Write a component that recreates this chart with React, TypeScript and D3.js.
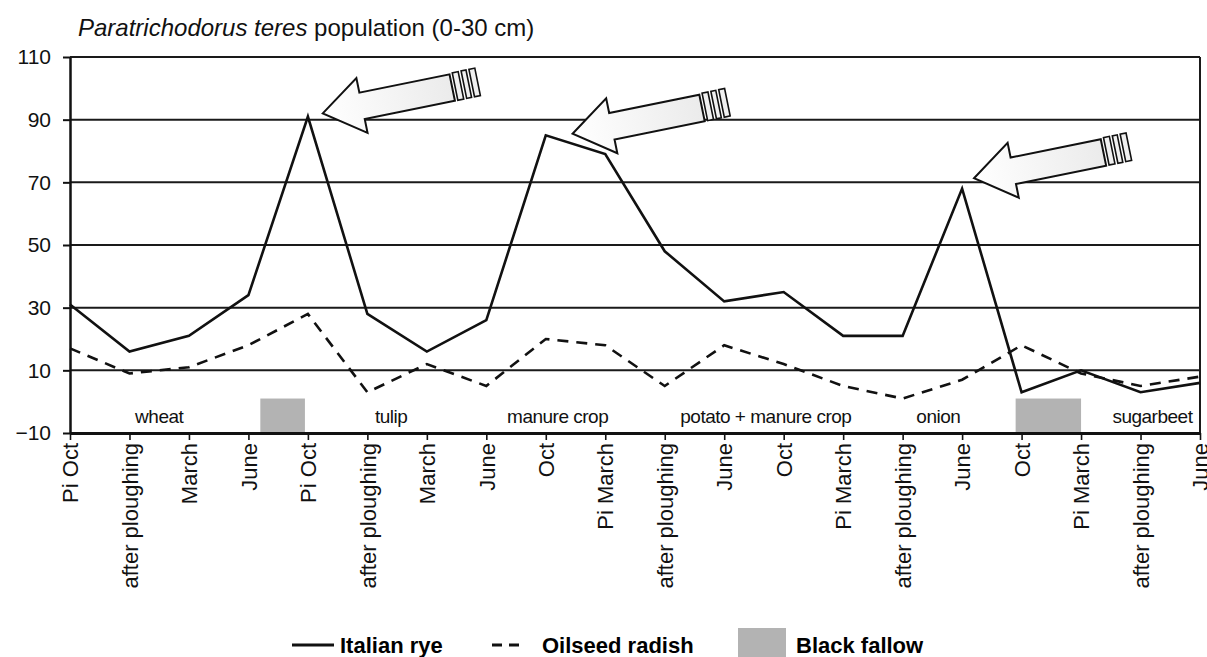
import React, { useEffect, useRef } from 'react';
import * as d3 from 'd3';

// sampling moments along the rotation (x axis)
const timeLabels = [
  'Pi Oct', 'after ploughing', 'March', 'June', 'Pi Oct', 'after ploughing', 'March', 'June',
  'Oct', 'Pi March', 'after ploughing', 'June', 'Oct', 'Pi March', 'after ploughing', 'June',
  'Oct', 'Pi March', 'after ploughing', 'June',
];
const italianRye = [31, 16, 21, 34, 91, 28, 16, 26, 85, 79, 48, 32, 35, 21, 21, 68, 3, 10, 3, 6];
const oilseedRadish = [17, 9, 11, 18, 28, 3, 12, 5, 20, 18, 5, 18, 12, 5, 1, 7, 18, 9, 5, 8];
const yTicks = [-10, 10, 30, 50, 70, 90, 110];

// crop names written under the lines (position in sampling-index units)
const crops = ['wheat', 'tulip', 'manure crop', 'potato + manure crop', 'onion', 'sugarbeet'];
const cropPos = [1.5, 5.4, 8.2, 11.7, 14.6, 18.2];

// black fallow periods
const fallowStart = [3.2, 15.9];
const fallowEnd = [3.95, 17.0];
const fallowTop = 1;

// arrows pointing at the peaks
const arrowTipX = [4.25, 8.45, 15.2];
const arrowTipY = [92, 85.5, 71.3];

const FONT = '"Liberation Sans", Arial, sans-serif';

const App = () => {
  const svgRef = useRef<SVGSVGElement>(null);

  useEffect(() => {
    document.body.style.margin = '0';
    const svg = d3.select(svgRef.current);
    svg.selectAll('*').remove();

    const width = 1207;
    const height = 657;
    const margin = { top: 57, left: 70, right: 7, bottom: 224 };

    svg.attr('width', width).attr('height', height).style('background', '#fff');

    const x = d3.scaleLinear().domain([0, timeLabels.length - 1]).range([margin.left, width - margin.right]);
    const y = d3.scaleLinear().domain([-10, 110]).range([height - margin.bottom, margin.top]);

    const defs = svg.append('defs');
    const grad = defs.append('linearGradient').attr('id', 'arrowFill').attr('x1', '0').attr('x2', '1').attr('y1', '0').attr('y2', '0');
    grad.append('stop').attr('offset', '0').attr('stop-color', '#ffffff');
    grad.append('stop').attr('offset', '1').attr('stop-color', '#ebebeb');

    // title
    const title = svg.append('text')
      .attr('x', 78).attr('y', 36)
      .style('font-family', FONT).style('font-size', '24px').style('fill', '#111');
    title.append('tspan').style('font-style', 'italic').text('Paratrichodorus teres');
    title.append('tspan').text(' population (0-30 cm)');

    // fallow blocks
    svg.selectAll('.fallow')
      .data(fallowStart)
      .enter()
      .append('rect')
      .attr('x', (d) => x(d))
      .attr('width', (d, i) => x(fallowEnd[i]) - x(d))
      .attr('y', y(fallowTop))
      .attr('height', y(-10) - y(fallowTop))
      .style('fill', '#b3b3b3');

    // gridlines
    svg.selectAll('.grid')
      .data(yTicks.filter((t) => t > -10))
      .enter()
      .append('line')
      .attr('x1', x(0)).attr('x2', x(timeLabels.length - 1))
      .attr('y1', (d) => y(d)).attr('y2', (d) => y(d))
      .style('stroke', '#1a1a1a').style('stroke-width', 2);

    // right border
    svg.append('line')
      .attr('x1', x(timeLabels.length - 1)).attr('x2', x(timeLabels.length - 1))
      .attr('y1', y(110)).attr('y2', y(-10))
      .style('stroke', '#1a1a1a').style('stroke-width', 2);

    // crop labels
    svg.selectAll('.crop')
      .data(crops)
      .enter()
      .append('text')
      .attr('x', (d, i) => x(cropPos[i]))
      .attr('y', y(-10) - 10)
      .attr('text-anchor', 'middle')
      .style('font-family', FONT).style('font-size', '19px').style('fill', '#111')
      .style('letter-spacing', '-0.5px')
      .text((d) => d);

    // series
    const line = d3.line<number>().x((d, i) => x(i)).y((d) => y(d));
    svg.append('path').datum(oilseedRadish).attr('d', line)
      .style('fill', 'none').style('stroke', '#111').style('stroke-width', 2.6)
      .style('stroke-dasharray', '11,8');
    svg.append('path').datum(italianRye).attr('d', line)
      .style('fill', 'none').style('stroke', '#111').style('stroke-width', 2.6)
      .style('stroke-linejoin', 'miter');

    // arrows
    const arrowShape = 'M0,0 L40,-28 L40,-13 L132,-13 L132,14 L40,14 L40,28 Z';
    arrowTipX.forEach((tx, i) => {
      const g = svg.append('g')
        .attr('transform', `translate(${x(tx)},${y(arrowTipY[i])}) rotate(-11.5)`);
      g.append('path').attr('d', arrowShape)
        .style('fill', 'url(#arrowFill)').style('stroke', '#111').style('stroke-width', 2);
      [[135, 141], [144, 149], [152, 158]].forEach(([a, b]) => {
        g.append('rect').attr('x', a).attr('y', -14).attr('width', b - a).attr('height', 28)
          .style('fill', '#f0f0f0').style('stroke', '#111').style('stroke-width', 1.6);
      });
    });

    // y axis
    const yAxis = svg.append('g')
      .attr('transform', `translate(${x(0)},0)`)
      .call(d3.axisLeft(y).tickValues(yTicks).tickSize(7).tickSizeOuter(0).tickPadding(12));
    yAxis.select('.domain').style('stroke', '#111').style('stroke-width', 2.5);
    yAxis.selectAll('.tick line').style('stroke', '#111').style('stroke-width', 2);
    yAxis.selectAll('text')
      .style('font-family', FONT).style('font-size', '21px').style('fill', '#111');

    // x axis
    const xAxis = svg.append('g')
      .attr('transform', `translate(0,${y(-10)})`)
      .call(d3.axisBottom(x)
        .tickValues(d3.range(timeLabels.length))
        .tickFormat((d) => timeLabels[d as number])
        .tickSize(7).tickSizeOuter(0));
    xAxis.select('.domain').style('stroke', '#111').style('stroke-width', 3);
    xAxis.selectAll('.tick line').style('stroke', '#111').style('stroke-width', 1.6);
    xAxis.selectAll('text')
      .attr('transform', 'rotate(-90)')
      .attr('text-anchor', 'end')
      .attr('x', -10).attr('y', 0).attr('dy', '0.35em')
      .style('font-family', FONT).style('font-size', '22px').style('fill', '#111');

    // legend
    const legendY = 645;
    const legend = svg.append('g').style('font-family', FONT).style('font-size', '22px').style('font-weight', 'bold');
    legend.append('line').attr('x1', 292).attr('x2', 334).attr('y1', legendY).attr('y2', legendY)
      .style('stroke', '#111').style('stroke-width', 3);
    legend.append('text').attr('x', 340).attr('y', legendY + 8).text('Italian rye');
    legend.append('line').attr('x1', 492).attr('x2', 520).attr('y1', legendY).attr('y2', legendY)
      .style('stroke', '#111').style('stroke-width', 3).style('stroke-dasharray', '10,7');
    legend.append('text').attr('x', 542).attr('y', legendY + 8).text('Oilseed radish');
    legend.append('rect').attr('x', 738).attr('y', legendY - 17).attr('width', 48).attr('height', 29)
      .style('fill', '#b3b3b3');
    legend.append('text').attr('x', 796).attr('y', legendY + 8).text('Black fallow');
  }, []);

  return <svg ref={svgRef} style={{ display: 'block' }}></svg>;
};

export default App;
